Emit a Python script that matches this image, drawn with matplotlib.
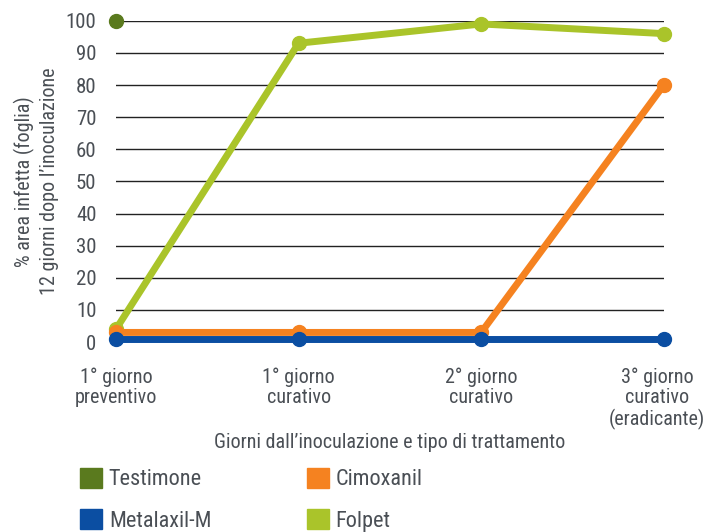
import matplotlib.pyplot as plt
from matplotlib.patches import Patch
from matplotlib.transforms import ScaledTranslation
import numpy as np

plt.rcParams['font.family'] = ['Roboto Condensed', 'DejaVu Sans']

categories = ['1° giorno\npreventivo', '1° giorno\ncurativo', '2° giorno\ncurativo',
              '3° giorno\ncurativo\n(eradicante)']
testimone = [100]
cimoxanil = [3, 3, 3, 80]
metalaxil = [1, 1, 1, 1]
folpet = [4, 93, 99, 96]

colors = {
    'Testimone': '#5a7a1e',
    'Cimoxanil': '#f58220',
    'Metalaxil-M': '#0b4ea2',
    'Folpet': '#aac42a',
}
text_col = '#4a4f55'

fig = plt.figure(figsize=(7.07, 5.32), dpi=100)
ax = fig.add_axes([0.164, 0.357, 0.775, 0.604])

x = np.arange(len(categories))
for name, vals in [('Folpet', folpet), ('Cimoxanil', cimoxanil), ('Metalaxil-M', metalaxil)]:
    ax.plot(x, vals, color=colors[name], lw=5, marker='o', ms=10, clip_on=False,
            solid_capstyle='round', zorder=3)
ax.plot(x[:len(testimone)], testimone, color=colors['Testimone'], marker='o', ms=10,
        clip_on=False, zorder=4)

ax.set_xlim(0, 3)
ax.set_ylim(0, 100)
ax.set_yticks(range(0, 101, 10))
ax.yaxis.grid(True, color='#222222', lw=1)
ax.set_axisbelow(True)
for s in ax.spines.values():
    s.set_visible(False)
ax.tick_params(length=0, labelsize=15, colors=text_col)
ax.tick_params(axis='y', pad=14)
ax.tick_params(axis='x', pad=18, labelsize=14.5)
ax.set_xticks(x)
ax.set_xticklabels(categories, linespacing=1.1, va='top')
# nudge the last label left so it stays inside the canvas
last = ax.get_xticklabels()[-1]
last.set_transform(last.get_transform() + ScaledTranslation(-5 / 72, 0, fig.dpi_scale_trans))

ax.set_xlabel("Giorni dall’inoculazione e tipo di trattamento", fontsize=14.5,
              color=text_col, labelpad=2)
ax.set_ylabel("% area infetta (foglia)\n12 giorni dopo l’inoculazione", fontsize=14.5,
              color=text_col, labelpad=5, linespacing=1.3)

labels = ['Testimone', 'Metalaxil-M', 'Cimoxanil', 'Folpet']
handles = [Patch(color=colors[n]) for n in labels]
leg = fig.legend(handles, labels, ncol=2, loc='upper left', bbox_to_anchor=(0.113, 0.121),
                 frameon=False, fontsize=16, handlelength=1.0, handleheight=1.0,
                 handletextpad=0.3, columnspacing=4.3, labelspacing=0.85,
                 borderpad=0, borderaxespad=0)
for t in leg.get_texts():
    t.set_color(text_col)

fig.savefig('out.png', dpi=100)
